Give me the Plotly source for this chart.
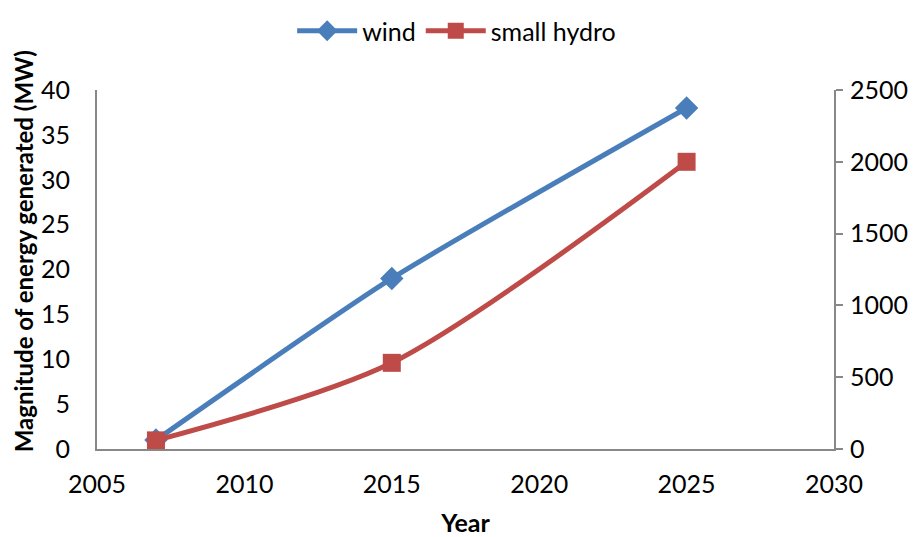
import plotly.graph_objects as go

years = [2007, 2015, 2025]
wind = [1, 19, 38]
small_hydro = [60, 600, 2000]

blue = "#4A7EBB"
red = "#BE4B48"
font_family = "Lato, Liberation Sans, sans-serif"

fig = go.Figure()
fig.add_trace(go.Scatter(
    x=years, y=wind, name="wind", mode="lines+markers",
    line=dict(color=blue, width=5, shape="spline", smoothing=0.6),
    marker=dict(symbol="diamond", size=18, color=blue),
    yaxis="y"))
fig.add_trace(go.Scatter(
    x=years, y=small_hydro, name="small hydro", mode="lines+markers",
    line=dict(color=red, width=5, shape="spline", smoothing=0.8),
    marker=dict(symbol="square", size=18, color=red),
    yaxis="y2"))

fig.update_layout(
    width=916, height=537,
    margin=dict(l=89, r=90, t=82, b=96),
    paper_bgcolor="white", plot_bgcolor="white",
    font=dict(family=font_family, size=25, color="black"),
    showlegend=True,
    legend=dict(orientation="h", x=0.488, xanchor="center", y=1.0, yanchor="top",
                yref="container", font=dict(size=25), itemwidth=60,
                tracegroupgap=0),
    xaxis=dict(range=[2005, 2030], dtick=5, tick0=2005, showgrid=False,
               showline=True, linecolor="#888888", linewidth=2, ticks="",
               zeroline=False, ticklabelstandoff=12,
               title=dict(text="<b>Year</b>", font=dict(size=25), standoff=17)),
    yaxis=dict(range=[0, 40], dtick=5, showgrid=False, showline=True,
               linecolor="#888888", linewidth=2, ticks="", zeroline=False,
               ticklabelstandoff=20),
    yaxis2=dict(range=[0, 2500], dtick=500, overlaying="y", side="right",
                showgrid=False, showline=True, linecolor="#888888", linewidth=2,
                ticks="outside", ticklen=7, tickcolor="#888888", tickwidth=2,
                zeroline=False, ticklabelstandoff=2),
    annotations=[dict(
        text="<b>Magnitude of energy generated (MW)</b>",
        xref="paper", yref="paper", x=-0.1, y=0.5515,
        xanchor="center", yanchor="middle", textangle=-90,
        showarrow=False, font=dict(size=24))],
)

fig.write_html("out.html")
